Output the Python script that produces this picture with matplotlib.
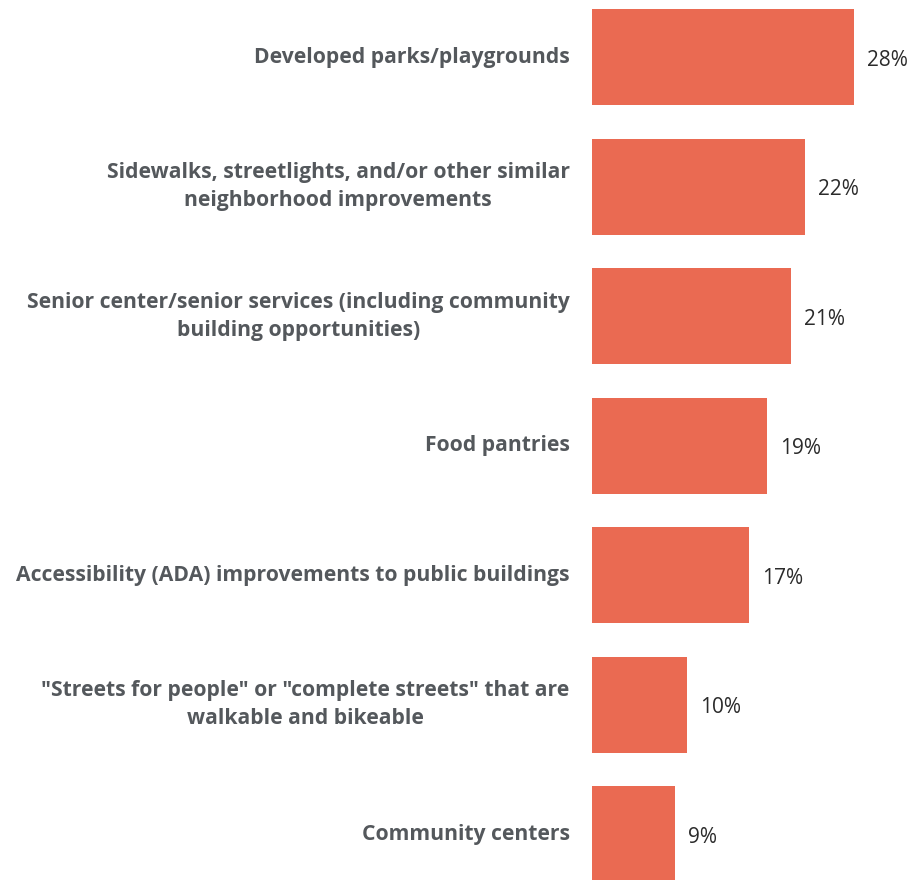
import matplotlib
matplotlib.use('Agg')
import matplotlib.pyplot as plt

categories = [
    'Developed parks/playgrounds',
    'Sidewalks, streetlights, and/or other similar\nneighborhood improvements',
    'Senior center/senior services (including community\nbuilding opportunities)',
    'Food pantries',
    'Accessibility (ADA) improvements to public buildings',
    '"Streets for people" or "complete streets" that are\nwalkable and bikeable',
    'Community centers',
]
values = [28.0, 22.7, 21.3, 18.7, 16.8, 10.2, 8.9]
value_labels = ['28%', '22%', '21%', '19%', '17%', '10%', '9%']

BAR_COLOR = '#EA6A52'
LABEL_COLOR = '#54585c'
VALUE_COLOR = '#2b2b2b'

fig = plt.figure(figsize=(9.18, 8.8), dpi=100)
ax = fig.add_axes([591.7 / 918, 0, 1 - 591.7 / 918, 1])

ypos = list(range(len(values)))
ax.barh(ypos, values, height=0.741, color=BAR_COLOR)
ax.set_xlim(0, (918 - 591.7) / 9.38)
ax.set_ylim(6.354, -0.4417)
ax.axis('off')

for y, v, lab, cat in zip(ypos, values, value_labels, categories):
    ax.annotate(lab, xy=(v, y), xytext=(13, -3), textcoords='offset pixels',
                ha='left', va='center', fontsize=15, color=VALUE_COLOR,
                family='Open Sans')
    ax.annotate(cat, xy=(0, y), xytext=(-22, 0), textcoords='offset pixels',
                ha='right', va='center', multialignment='center',
                fontsize=15.2, fontweight='bold', color=LABEL_COLOR,
                family='Open Sans', linespacing=1.45, annotation_clip=False)

fig.savefig('out.png', dpi=100)
